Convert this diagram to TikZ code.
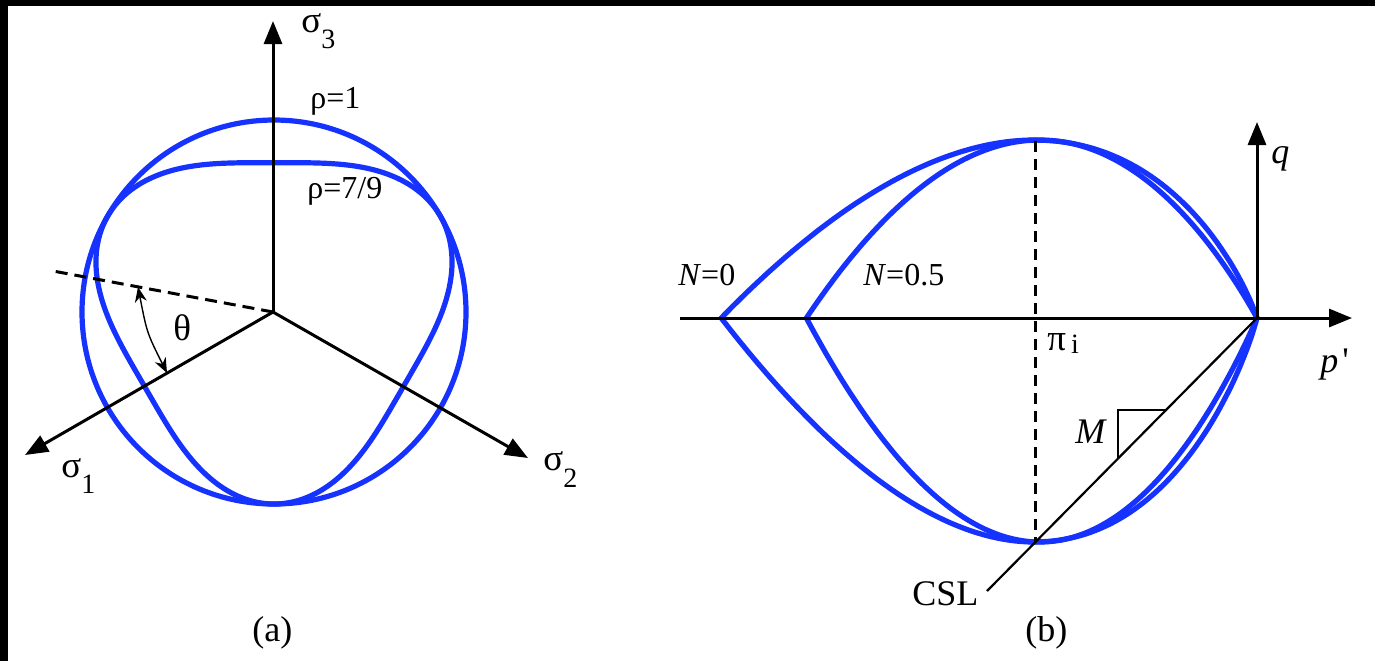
\documentclass[tikz,border=0pt]{standalone}
\usepackage{fontspec}
\setmainfont{Liberation Serif}
\usetikzlibrary{arrows.meta}
\definecolor{curveblue}{RGB}{22,50,255}
\newcommand\subsz{\fontsize{14}{14}\selectfont}
\begin{document}
\begin{tikzpicture}[x=0.5pt,y=-0.5pt,
  axis/.style={line width=1.5pt,-{Triangle[length=11.5pt,width=9pt]}},
  slim/.style={line width=1.1pt},
  dashline/.style={line width=1.5pt,dash pattern=on 6pt off 3.5pt},
  surf/.style={line width=2.6pt,draw=curveblue,line join=miter},
  lbl/.style={inner sep=0pt,anchor=base west,font=\fontsize{16}{19}\selectfont},
  midlbl/.style={inner sep=0pt,anchor=base west,font=\fontsize{18.5}{20}\selectfont},
  biglbl/.style={inner sep=0pt,anchor=base west,font=\fontsize{18}{21}\selectfont}]
\useasboundingbox (0,0) rectangle (1375,661);
\fill[white] (0,0) rectangle (1375,661);
\fill[black] (0,0) rectangle (1375,6);
\fill[black] (0,0) rectangle (8,661);

% ---------- panel (a) ----------
\coordinate (Oa) at (273,312);
\coordinate (s3tip) at (273,21);
\coordinate (s1tip) at (25,455);
\coordinate (s2tip) at (528,458);
\coordinate (dashend) at (53,271);
\draw[surf] (274,312) circle[radius=96pt];
\draw[surf] plot[domain=0:358,samples=180,smooth cycle,variable=\t]
  ({274+298.67/(1.7778-0.2222*sin(3*\t))*cos(\t)},{312-298.67/(1.7778-0.2222*sin(3*\t))*sin(\t)});
\draw[axis] (Oa) -- (s3tip);
\draw[axis] (Oa) -- (s1tip);
\draw[axis] (Oa) -- (s2tip);
\draw[dashline] (Oa) -- (dashend);
\coordinate (thA) at (138,287);
\coordinate (thB) at (167,373);
\coordinate (thC) at (147,333);
\draw[line width=0.7pt,{Stealth[length=7.5pt,width=6pt]}-{Stealth[length=7.5pt,width=6pt]}] (thA) .. controls (thC) .. (thB);

\node[midlbl] (s3lbl) at (301,32) {σ\raisebox{-8pt}{\subsz 3}};
\node[lbl] (rho1) at (310,108) {ρ=1};
\node[lbl] (rho79) at (307,198) {ρ=7/9};
\node[midlbl] (theta) at (173,340) {θ};
\node[midlbl] (s1lbl) at (61,477) {σ\raisebox{-8pt}{\subsz 1}};
\node[midlbl] (s2lbl) at (543,470) {σ\raisebox{-8.5pt}{\subsz 2}};
\node[biglbl] (capa) at (252,641) {(a)};

% ---------- panel (b) ----------
\coordinate (Ob) at (1257,318);
\coordinate (pstart) at (680,318);
\coordinate (ptip) at (1352,318);
\coordinate (qtip) at (1257,122);
\coordinate (peak) at (1035,141);
\coordinate (bottom) at (1035,542);
\coordinate (cslend) at (987,591);
\coordinate (mcorner) at (1118,410);
\coordinate (mh) at (1166,410);
\coordinate (mv) at (1118,458);

\draw[surf] (Ob) -- plot[domain=0.0005:2.4131,samples=120,smooth,variable=\s]
  ({1257-222*\s},{318-178*\s/0.22*(1-0.78*\s^0.28205)})
  -- plot[domain=0:2.413,samples=120,smooth,variable=\s]
  ({1257-222*(2.4131-\s)},{318+224*(2.4131-\s)/0.22*(1-0.78*(2.4131-\s)^0.28205)});
\draw[surf] (Ob) -- plot[domain=0.0005:2.0764,samples=120,smooth,variable=\s]
  ({1257-217*\s},{318-178*\s/0.45*(1-0.55*\s^0.81818)})
  -- plot[domain=0:2.0759,samples=120,smooth,variable=\s]
  ({1257-217*(2.0764-\s)},{318+224*(2.0764-\s)/0.45*(1-0.55*(2.0764-\s)^0.81818)});

\draw[dashline,dash pattern=on 5.5pt off 3.5pt] (peak) -- (bottom);
\draw[slim] (Ob) -- (cslend);
\draw[slim] (mv) -- (mcorner) -- (mh);
\draw[axis] (pstart) -- (ptip);
\draw[axis] (Ob) -- (qtip);

\node[lbl] (n0) at (678,285) {\textit{N}=0};
\node[lbl] (n05) at (863,285) {\textit{N}=0.5};
\node[midlbl] (pii) at (1047,350) {π\hspace{2.5pt}\raisebox{-1.5pt}{\subsz i}};
\node[biglbl] (qlbl) at (1271,163) {\textit{q}};
\node[biglbl] (plbl) at (1320,372) {\textit{p}\hspace{2pt}\textquotesingle};
\node[biglbl] (mlbl) at (1075,443) {\textit{M}};
\node[biglbl] (csl) at (912,605) {CSL};
\node[biglbl] (capb) at (1025,641) {(b)};
\end{tikzpicture}
\end{document}
